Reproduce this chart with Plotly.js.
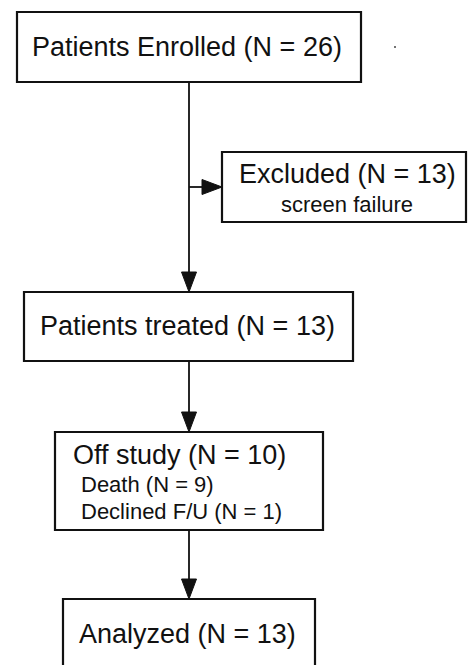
<!DOCTYPE html>
<html>
<head>
<meta charset="utf-8">
<script src="https://cdn.plot.ly/plotly-3.0.1.min.js"></script>
<style>html,body{margin:0;padding:0;background:#fff;}#chart{width:468px;height:665px;}</style>
</head>
<body>
<div id="chart"></div>
<script>
// ---- data ----
var stageLabels = ["Patients Enrolled", "Excluded", "Patients treated", "Off study", "Analyzed"];
var stageCounts = [26, 13, 13, 10, 13];
var excludedReasons = ["screen failure"];
var offStudyReasons = ["Death", "Declined F/U"];
var offStudyCounts = [9, 1];

// ---- layout geometry (pixels, y downward) ----
var boxes = [
  {x0: 17,  x1: 361, y0: 12,  y1: 82},   // enrolled
  {x0: 222, x1: 466, y0: 152, y1: 222},  // excluded
  {x0: 24,  x1: 353, y0: 292, y1: 361},  // treated
  {x0: 55,  x1: 323, y0: 432, y1: 530},  // off study
  {x0: 63,  x1: 315, y0: 599, y1: 700}   // analyzed
];
var spineX = 189;
var headLen = 20, headHalf = 7.5;
var lineCol = "#111", font = "Liberation Sans, Arial, Helvetica, sans-serif";

var shapes = [];
boxes.forEach(function (b) {
  shapes.push({type: "rect", xref: "x", yref: "y", x0: b.x0, x1: b.x1, y0: b.y0, y1: b.y1,
    line: {color: lineCol, width: 2.2}, fillcolor: "rgba(0,0,0,0)"});
});
function vline(x, y0, y1) {
  shapes.push({type: "line", xref: "x", yref: "y", x0: x, x1: x, y0: y0, y1: y1, line: {color: lineCol, width: 1.8}});
}
function downArrow(x, yStart, yTip) {
  vline(x, yStart, yTip - headLen);
  shapes.push({type: "path", xref: "x", yref: "y",
    path: "M " + (x - headHalf) + " " + (yTip - headLen) + " L " + (x + headHalf) + " " + (yTip - headLen) + " L " + x + " " + yTip + " Z",
    fillcolor: lineCol, line: {color: lineCol, width: 1}});
}
function rightArrow(xStart, xTip, y) {
  shapes.push({type: "line", xref: "x", yref: "y", x0: xStart, x1: xTip - headLen, y0: y, y1: y, line: {color: lineCol, width: 1.8}});
  shapes.push({type: "path", xref: "x", yref: "y",
    path: "M " + (xTip - headLen) + " " + (y - headHalf) + " L " + (xTip - headLen) + " " + (y + headHalf) + " L " + xTip + " " + y + " Z",
    fillcolor: lineCol, line: {color: lineCol, width: 1}});
}
downArrow(spineX, boxes[0].y1, boxes[2].y0);
rightArrow(spineX, boxes[1].x0, 187);
downArrow(spineX, boxes[2].y1, boxes[3].y0);
downArrow(spineX, boxes[3].y1, boxes[4].y0);
// stray dot
shapes.push({type: "circle", xref: "x", yref: "y", x0: 394, x1: 396, y0: 46, y1: 48, fillcolor: "#444", line: {width: 0}});

function nText(label, n) { return label + " (N = " + n + ")"; }
function ann(text, x, y, size, align) {
  return {text: text, x: x, y: y, xref: "x", yref: "y", showarrow: false,
    xanchor: align || "center", yanchor: "middle", font: {family: font, size: size, color: "#111"}};
}
var annotations = [
  ann(nText(stageLabels[0], stageCounts[0]), 187, 47, 27),
  ann(nText(stageLabels[1], stageCounts[1]), 347, 174, 27),
  ann(excludedReasons[0], 347, 204, 22),
  ann(nText(stageLabels[2], stageCounts[2]), 187, 326, 27),
  ann(nText(stageLabels[3], stageCounts[3]), 71, 455, 27, "left"),
  ann(nText(offStudyReasons[0], offStudyCounts[0]), 79, 484, 22, "left"),
  ann(nText(offStudyReasons[1], offStudyCounts[1]), 79, 511, 22, "left"),
  ann(nText(stageLabels[4], stageCounts[4]), 187, 634, 27)
];

var layout = {
  width: 468, height: 665,
  margin: {l: 0, r: 0, t: 0, b: 0},
  paper_bgcolor: "#fff", plot_bgcolor: "#fff",
  showlegend: false,
  xaxis: {range: [0, 468], visible: false, fixedrange: true},
  yaxis: {range: [665, 0], visible: false, fixedrange: true},
  shapes: shapes,
  annotations: annotations
};
Plotly.newPlot("chart", [], layout, {staticPlot: true, displayModeBar: false});
</script>
</body>
</html>
